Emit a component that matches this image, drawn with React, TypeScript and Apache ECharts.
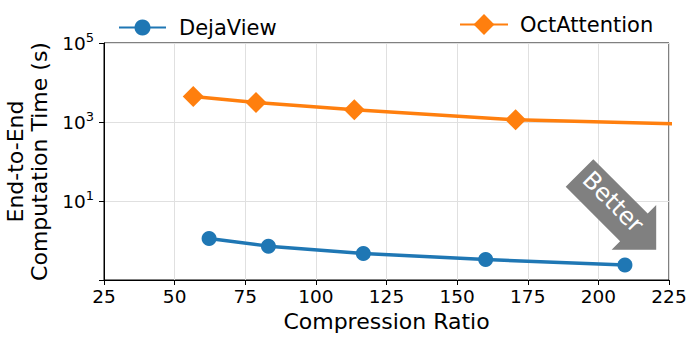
import React, { useEffect, useRef } from 'react';
import * as echarts from 'echarts';

const dejaViewRatio = [62.2, 83.2, 116.8, 160.1, 209.4];
const dejaViewTime = [1.12, 0.72, 0.47, 0.33, 0.24];
const octRatio = [56.6, 78.8, 113.6, 170.7, 256];
const octTime = [4400, 3100, 2040, 1140, 800];
const seriesNames = ['DejaView', 'OctAttention'];
const xRange = [25, 225];
const xStep = 25;
const yRange = [0.1, 100000];
const yLabelExponents = [1, 3, 5];
const xTitle = 'Compression Ratio';
const yTitle = 'End-to-End\nComputation Time (s)';
const arrowText = 'Better';

const FONT = 'DejaVu Sans';

export default function App() {
  const ref = useRef<HTMLDivElement>(null);
  useEffect(() => {
    if (!ref.current) return;
    const chart = echarts.init(ref.current, undefined, { renderer: 'svg' });
    const blue = '#1f77b4';
    const orange = '#ff7f0e';
    // arrow geometry (annotation)
    const arrowPts = [
      [593.3, 159.2], [647.7, 213.6], [656.2, 205.1], [656.2, 249.7],
      [611.6, 249.7], [620.1, 241.2], [565.7, 186.8],
    ];
    chart.setOption({
      animation: false,
      textStyle: { fontFamily: FONT },
      grid: {
        left: 104, right: 28, top: 43, bottom: 57,
        show: true, borderColor: '#000', borderWidth: 1,
        containLabel: false, outerBoundsMode: 'none',
      },
      legend: [
        {
          data: [seriesNames[0]], left: 113, top: 12,
          itemWidth: 47, itemHeight: 20,
          textStyle: { fontSize: 21, color: '#000', fontFamily: FONT, padding: [0, 0, 0, 8] },
        },
        {
          data: [seriesNames[1]], left: 454, top: 9,
          itemWidth: 48, itemHeight: 26,
          textStyle: { fontSize: 21, color: '#000', fontFamily: FONT, padding: [0, 0, 0, 7] },
        },
      ],
      xAxis: {
        type: 'value',
        min: xRange[0], max: xRange[1], interval: xStep,
        name: xTitle, nameLocation: 'middle', nameGap: 27,
        nameTextStyle: { fontSize: 22, color: '#000', fontFamily: FONT },
        axisLine: { show: true, lineStyle: { color: '#000', width: 1 } },
        axisTick: { show: true, inside: false, length: 5, lineStyle: { color: '#000' } },
        axisLabel: { fontSize: 18.5, color: '#000', margin: 7, fontFamily: FONT },
        splitLine: { show: true, lineStyle: { color: '#e0e0e0', width: 1 } },
      },
      yAxis: {
        type: 'log', logBase: 10,
        min: yRange[0], max: yRange[1], interval: 2,
        name: yTitle, nameLocation: 'middle', nameGap: 46,
        nameTextStyle: { fontSize: 22, color: '#000', fontFamily: FONT, lineHeight: 24 },
        axisLine: { show: true, lineStyle: { color: '#000', width: 1 } },
        axisTick: { show: true, inside: false, length: 5, lineStyle: { color: '#000' } },
        minorTick: { show: false },
        axisLabel: {
          margin: 10,
          formatter: (v: number) => {
            const e = Math.round(Math.log10(v));
            if (!yLabelExponents.includes(e)) return '';
            return `{b|10}{s|${e}}`;
          },
          rich: {
            b: { fontSize: 18.5, color: '#000', fontFamily: FONT },
            s: { fontSize: 13, color: '#000', fontFamily: FONT, padding: [0, 0, 11, 0] },
          },
        },
        splitLine: { show: true, lineStyle: { color: '#e0e0e0', width: 1 } },
      },
      series: [
        {
          name: seriesNames[0], type: 'line',
          data: dejaViewRatio.map((x, i) => [x, dejaViewTime[i]]),
          symbol: 'circle', symbolSize: 15,
          lineStyle: { color: blue, width: 3.5 },
          itemStyle: { color: blue },
          clip: true, z: 3,
        },
        {
          name: seriesNames[1], type: 'line',
          data: octRatio.map((x, i) => [x, octTime[i]]),
          symbol: 'diamond', symbolSize: 21,
          lineStyle: { color: orange, width: 3.5 },
          itemStyle: { color: orange },
          clip: true, z: 3,
        },
      ],
      graphic: [
        {
          type: 'polygon', z: 100,
          shape: { points: arrowPts },
          style: { fill: '#808080' },
        },
        {
          type: 'text', z: 101,
          x: 613, y: 202, rotation: -Math.PI / 4,
          style: {
            text: arrowText, fill: '#fff', fontSize: 24, fontFamily: FONT,
            align: 'center', verticalAlign: 'middle',
          },
        },
      ],
    });
    return () => chart.dispose();
  }, []);
  return <div ref={ref} style={{ position: 'absolute', left: 0, top: 0, width: 697, height: 337 }} />;
}
